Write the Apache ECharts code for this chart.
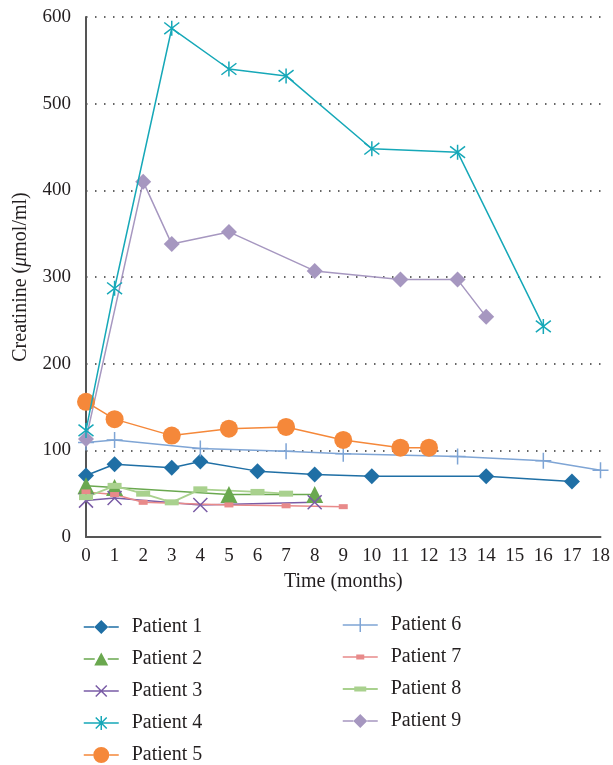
<!DOCTYPE html>
<html>
<head>
<meta charset="utf-8">
<script src="https://cdn.jsdelivr.net/npm/echarts@6/dist/echarts.min.js"></script>
<style>html,body{margin:0;padding:0;background:#fff}#c{width:613px;height:765px}</style>
</head>
<body>
<div id="c"></div>
<script>
const names = ['Patient 1','Patient 2','Patient 3','Patient 4','Patient 5','Patient 6','Patient 7','Patient 8','Patient 9'];
const xTicks = [0,1,2,3,4,5,6,7,8,9,10,11,12,13,14,15,16,17,18];
const yTicks = [0,100,200,300,400,500,600];

const p1x = [0,1,3,4,6,8,10,14,17];
const p1y = [71,84,80,87,76,72,70,70,64];
const p2x = [0,1,5,8];
const p2y = [59,57,49,49];
const p3x = [0,1,4,8];
const p3y = [42,45,37,40];
const p4x = [0,1,3,5,7,10,13,16];
const p4y = [123,287,587,540,532,448,444,243];
const p5x = [0,1,3,5,7,9,11,12];
const p5y = [156,136,117,125,127,112,103,103];
const p6x = [0,1,4,7,9,13,16,18];
const p6y = [109,112,102,99,96,93,88,77];
const p7x = [0,1,2,5,7,9];
const p7y = [52,49,40,37,36,35];
const p8x = [0,1,2,3,4,6,7];
const p8y = [46,59,50,40,55,52,50];
const p9x = [0,2,3,5,8,11,13,14];
const p9y = [113,410,338,352,307,297,297,254];

const xs = [p1x,p2x,p3x,p4x,p5x,p6x,p7x,p8x,p9x];
const ys = [p1y,p2y,p3y,p4y,p5y,p6y,p7y,p8y,p9y];
const colors = ['#1f6fa5','#6aa84f','#7a5ca6','#16a8b8','#f5883a','#7fa5d5','#e88a8a','#a9d18e','#a697c0'];
const symbols = [
  'diamond','triangle',
  'path://M0,0L10,10M10,0L0,10',
  'path://M0,0L10,10M10,0L0,10M5,-1.5L5,11.5',
  'circle',
  'path://M0,5L10,5M5,0L5,10',
  'rect','rect','diamond'
];
const sizes = [16,17,14,15,18,16,[9,5],[14,6],16];
const widths = [1.5,1.5,1.5,1.5,1.5,1.5,1.5,1.8,1.5];
const strokeMarker = [false,false,true,true,false,true,false,false,false];

// legend icons (35 x 16 box): line segments + marker
const seg = (a,b,h)=>`M${a},${8-h/2}H${b}V${8+h/2}H${a}Z`;
const diamondIcon = 'path://' + seg(0,10.5,1.5) + seg(24.5,35,1.5) + 'M10.5,8L17.5,1L24.5,8L17.5,15Z';
const legendIcons = [
  diamondIcon,
  'path://' + seg(0,11,1.5) + seg(24,35,1.5) + 'M17.5,1.5L24.5,14.5L10.5,14.5Z',
  'path://M0,8H35M12,2.5L23,13.5M23,2.5L12,13.5',
  'path://M0,8H35M12,2.5L23,13.5M23,2.5L12,13.5M17.5,1V15',
  'path://' + seg(0,9.5,1.5) + seg(25.5,35,1.5) + 'M9.5,8A8,8 0 1 0 25.5,8A8,8 0 1 0 9.5,8Z',
  'path://M0,8H35M17.5,1V15',
  'path://' + seg(0,13.5,1.5) + seg(21.5,35,1.5) + 'M13.5,5.5H21.5V10.5H13.5Z',
  'path://' + seg(0,11.5,2) + seg(23.5,35,2) + 'M11.5,5.5H23.5V10.5H11.5Z',
  diamondIcon
];
const FONT = 'Liberation Serif';
const TXT = '#231f20';

const series = names.map((n,i)=>({
  name:n, type:'line',
  data: xs[i].map((x,j)=>[x, ys[i][j]]),
  symbol: symbols[i], symbolSize: sizes[i],
  lineStyle:{color:colors[i], width:widths[i]},
  itemStyle:{color:colors[i], borderColor:colors[i], borderWidth:strokeMarker[i]?1.5:0},
  z: [3,3,3,5,4,3,3,3,4][i]
}));

const legendItems = names.map((n,i)=>({
  name:n, icon:legendIcons[i],
  itemStyle:{color:colors[i], borderColor:colors[i], borderWidth:strokeMarker[i]?1.5:0}
}));

const legendBase = {orient:'vertical', itemWidth:35, itemHeight:16, itemGap:12, padding:0,
  height:160, symbolKeepAspect:true,
  textStyle:{fontFamily:FONT,fontSize:20,color:TXT,padding:[0,0,0,8]}, selectedMode:false};

const chart = echarts.init(document.getElementById('c'));
chart.setOption({
  animation:false,
  color: colors,
  grid:{left:86,right:11,top:17,bottom:228,containLabel:false},
  xAxis:{
    type:'value', min:0, max:18, interval:1,
    name:'Time (months)', nameLocation:'middle', nameGap:35,
    nameTextStyle:{fontFamily:FONT,fontSize:20,color:TXT},
    axisLine:{show:true,lineStyle:{color:'#555',width:2}},
    axisTick:{show:false},
    splitLine:{show:false},
    axisLabel:{fontFamily:FONT,fontSize:19,color:TXT,margin:10,
      formatter:v=>xTicks.includes(v)?String(v):''}
  },
  yAxis:{
    type:'value', min:0, max:600, interval:100,
    name:'{a|Creatinine (}{b|μ}{a|mol/ml)}', nameLocation:'middle', nameGap:55, nameRotate:90,
    nameTextStyle:{fontFamily:FONT,fontSize:20,color:TXT,
      rich:{a:{fontFamily:FONT,fontSize:20,color:TXT},b:{fontFamily:FONT,fontSize:20,color:TXT,fontStyle:'italic'}}},
    axisLine:{show:true,lineStyle:{color:'#555',width:2}},
    axisTick:{show:false},
    splitLine:{show:true,lineStyle:{color:'#333',width:1.5,type:[1.5,7.5]}},
    axisLabel:{fontFamily:FONT,fontSize:19,color:TXT,margin:15,
      formatter:v=>yTicks.includes(v)?String(v):''}
  },
  legend:[
    Object.assign({}, legendBase, {data:legendItems.slice(0,5), left:83, top:617}),
    Object.assign({}, legendBase, {data:legendItems.slice(5), left:342, top:615})
  ],
  series: series
});
</script>
</body>
</html>
